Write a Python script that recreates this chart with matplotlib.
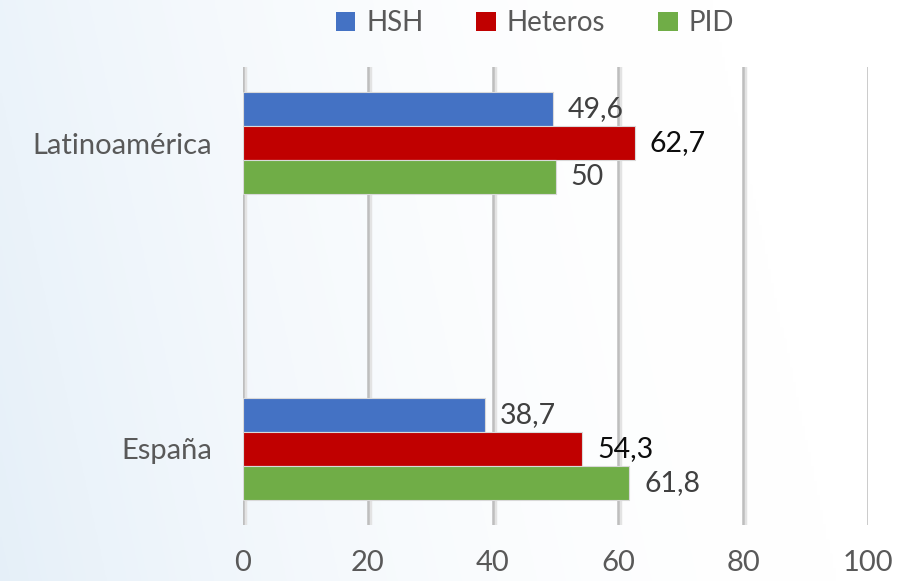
import matplotlib
matplotlib.use('Agg')
import matplotlib.pyplot as plt
import numpy as np
from matplotlib.patches import Patch

plt.rcParams['font.family'] = ['Lato', 'DejaVu Sans']

# datos
categories = ['España', 'Latinoamérica']
series = ['HSH', 'Heteros', 'PID']
hsh = [38.7, 49.6]
heteros = [54.3, 62.7]
pid = [61.8, 50.0]
xticks = [0, 20, 40, 60, 80, 100]

C_BLUE = '#4472C4'
C_RED = '#C00000'
C_GREEN = '#70AD47'
C_TXT = '#595959'

fig = plt.figure(figsize=(9.2, 5.81), dpi=100)

# fondo degradado azul claro
bg = fig.add_axes([0, 0, 1, 1], zorder=-5)
gx = np.linspace(0, 1, 300)
gy = np.linspace(0, 1, 200)
X, Y = np.meshgrid(gx, gy)
t = np.clip(1.0 - (X * 1.1 + (1 - Y) * 0.15), 0, 1) ** 1.8
c0 = np.array([1.0, 1.0, 1.0])
c1 = np.array([0.90, 0.94, 0.975])
img = c0[None, None, :] * (1 - t[..., None]) + c1[None, None, :] * t[..., None]
bg.imshow(img, aspect='auto', extent=[0, 1, 0, 1], origin='upper')
bg.axis('off')

ax = fig.add_axes([243 / 920, 1 - 525 / 581, 625 / 920, 458 / 581])
ax.set_facecolor('none')

y = np.arange(len(categories))
h = 0.111
bars = [
    (hsh, C_BLUE, h, '#404040'),
    (heteros, C_RED, 0, '#0D0D0D'),
    (pid, C_GREEN, -h, '#404040'),
]
for vals, col, off, lc in bars:
    rects = ax.barh(y + off, vals, height=h, color=col, edgecolor='#D9D9D9',
                    linewidth=0.8, zorder=3)
    for r, v in zip(rects, vals):
        lab = f'{v:g}'.replace('.', ',')
        ax.text(v + 2.4, r.get_y() + r.get_height() / 2, lab,
                ha='left', va='center', fontsize=20.5, color=lc, zorder=4)

ax.set_xlim(0, 100)
ax.set_ylim(-0.25, 1.25)
ax.set_xticks(xticks)
ax.set_xticklabels([str(v) for v in xticks])
ax.set_yticks(y)
ax.set_yticklabels(categories)
ax.tick_params(axis='both', length=0, labelsize=21, labelcolor=C_TXT)
ax.tick_params(axis='x', pad=18)
ax.tick_params(axis='y', pad=22)
for s in ax.spines.values():
    s.set_visible(False)

# rejilla vertical con sombra
for v in xticks:
    ax.axvline(v + 0.25, color='#E3E3E3', lw=3.2, zorder=1)
    ax.axvline(v, color='#BEBEBE', lw=1.8, zorder=2)

handles = [Patch(facecolor=c, edgecolor='none') for c in (C_BLUE, C_RED, C_GREEN)]
leg = fig.legend(handles, series, loc='center', bbox_to_anchor=(535 / 920, 1 - 23 / 581),
                 ncol=3, frameon=False, fontsize=20, handlelength=0.7, handleheight=0.7,
                 handletextpad=0.4, columnspacing=1.9)
for tx in leg.get_texts():
    tx.set_color(C_TXT)

fig.savefig('out.png', dpi=100)
